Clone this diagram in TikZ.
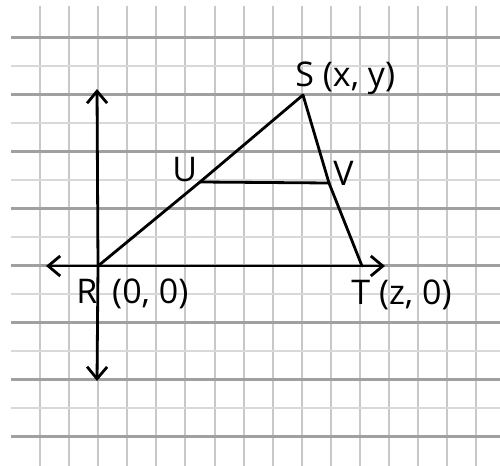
\documentclass[tikz,border=0pt]{standalone}
\usepackage{fontspec}
\setmainfont{Open Sans}
\usepackage{tikz}
\usetikzlibrary{arrows.meta,positioning,calc}
\definecolor{majorgrid}{RGB}{160,160,160}
\definecolor{minorgrid}{RGB}{217,217,217}
\definecolor{vertgrid}{RGB}{200,200,200}

\begin{document}
\begin{tikzpicture}[x=0.5pt,y=-0.5pt,>={Straight Barb[length=6pt,width=10pt]},every node/.style={font=\fontsize{17}{19}\selectfont,inner sep=0pt},edge/.style={line width=1.4pt,line cap=round,line join=round}]
\useasboundingbox (0,0) rectangle (500,466);
\foreach \k in {0,...,15}{\draw[vertgrid,line width=1pt](40+29.1*\k,6)--(40+29.1*\k,466);}
\foreach \k in {0,...,14}{\pgfmathsetmacro{\yy}{38+28.5*\k}
\ifodd\k \draw[minorgrid,line width=1pt](11,\yy)--(500,\yy); \else \draw[majorgrid,line width=1.5pt](11,\yy)--(500,\yy); \fi}
\coordinate (R) at (98,266); \coordinate (S) at (303,95); \coordinate (T) at (362,266);
\coordinate (U) at (200,182); \coordinate (V) at (329,183);
\coordinate (top) at (97,89); \coordinate (bottom) at (97,381); \coordinate (left) at (46,266); \coordinate (right) at (385,266);
\draw[edge,->](R)--(top); \draw[edge,->](R)--(bottom); \draw[edge,->](R)--(left); \draw[edge,->](R)--(right);
\draw[edge](R)--(U)--(S)--(V)--(T); \draw[edge](U)--(V);
\node[anchor=base west](slabel) at (295,87){S (x, y)};
\node[anchor=base west](ulabel) at (172,182){U};
\node[anchor=base west](vlabel) at (333,185){V};
\node[anchor=base west](rlabel) at (76,304){R\hspace{3pt} (0, 0)};
\node[anchor=base west](tlabel) at (351,305){T (z, 0)};
\end{tikzpicture}
\end{document}
